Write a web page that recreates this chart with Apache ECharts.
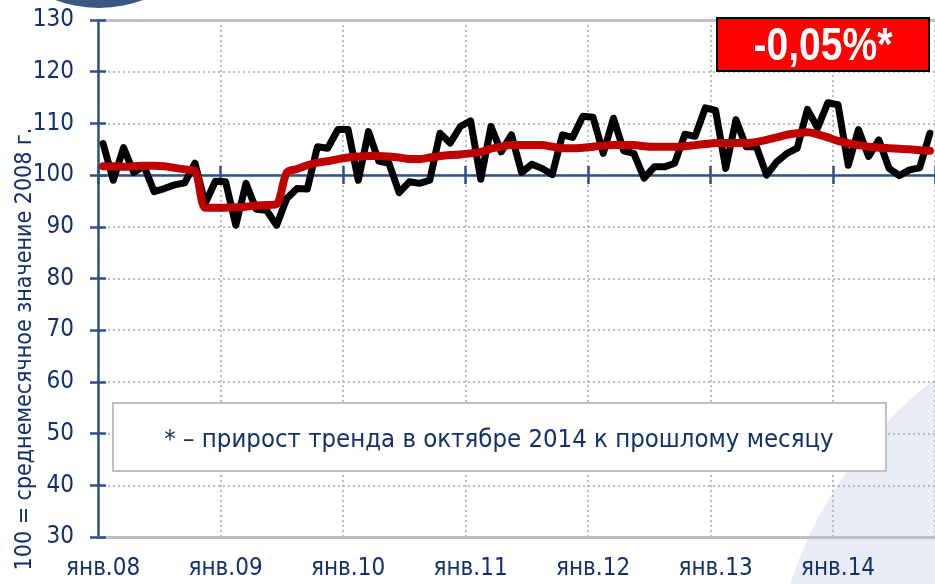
<!DOCTYPE html>
<html>
<head>
<meta charset="utf-8">
<script src="https://cdn.jsdelivr.net/npm/echarts@6/dist/echarts.min.js"></script>
<style>
html,body{margin:0;padding:0;background:#fff;}
#chart{width:935px;height:584px;}
</style>
</head>
<body>
<div id="chart"></div>
<script>
// ---- data ----
const monthNames = ['янв','фев','мар','апр','май','июн','июл','авг','сен','окт','ноя','дек'];
const years = ['08','09','10','11','12','13','14'];
const categories = [];
years.forEach(y => monthNames.forEach(m => categories.push(m + '.' + y)));
categories.length = 82; // янв.08 .. окт.14

const actual = [
  106.1, 99.0, 105.3, 100.5, 101.8, 96.8, 97.4, 98.1, 98.5, 102.3, 94.5, 98.8,
  98.7, 90.3, 98.4, 93.4, 93.2, 90.3, 95.5, 97.4, 97.3, 105.5, 105.2, 108.8,
  108.8, 99.0, 108.4, 102.7, 102.3, 96.6, 98.7, 98.4, 99.0, 108.1, 106.2, 109.4,
  110.5, 99.2, 109.4, 104.5, 107.8, 100.5, 102.1, 101.3, 100.1, 107.8, 107.3, 111.4,
  111.2, 104.2, 111.0, 104.7, 104.2, 99.4, 101.6, 101.6, 102.3, 107.9, 107.5, 113.0,
  112.5, 101.3, 110.7, 105.5, 105.5, 100.0, 102.6, 104.2, 105.2, 112.7, 109.1, 114.0,
  113.6, 101.9, 108.8, 103.6, 106.8, 101.3, 99.9, 101.0, 101.4, 108.1
];
const trend = [
  101.7, 101.7, 101.6, 101.7, 101.8, 101.8, 101.7, 101.4, 101.1, 100.8, 93.7, 93.7,
  93.7, 93.8, 93.9, 94.1, 94.2, 94.4, 100.5, 101.2, 101.9, 102.4, 102.7, 103.1,
  103.4, 103.6, 103.7, 103.7, 103.6, 103.4, 103.1, 103.1, 103.4, 103.7, 103.9, 104.0,
  104.2, 104.5, 105.1, 105.5, 105.8, 105.8, 105.8, 105.8, 105.5, 105.2, 105.2, 105.3,
  105.5, 105.7, 105.8, 105.8, 105.8, 105.6, 105.5, 105.5, 105.5, 105.6, 105.8, 106.0,
  106.2, 106.2, 106.2, 106.2, 106.4, 106.8, 107.3, 107.8, 108.1, 108.3, 107.9, 107.3,
  106.6, 106.2, 105.8, 105.5, 105.3, 105.2, 105.1, 105.0, 104.8, 104.7
];
const yTicks = { min: 30, max: 130, interval: 10 };
const baseLevel = 100;
const badgeText = '-0,05%*';
const noteText = '* – прирост тренда в октябре 2014 к прошлому месяцу';
const yTitle = '100 = среднемесячное значение 2008 г.';

// ---- style ----
const NAVY = '#13306a';
const AXIS = '#2d5286';
const FONT = "'Liberation Sans Narrow','Arial Narrow','DejaVu Sans Condensed',sans-serif";
const FONT2 = "'Liberation Sans',Arial,sans-serif";
const gridTop = 20, gridBottom = 47, gridLeft = 98;
const gridH = 584 - gridTop - gridBottom;
const baseOffset = -(baseLevel - yTicks.min) / (yTicks.max - yTicks.min) * gridH;

const chart = echarts.init(document.getElementById('chart'), null, { renderer: 'canvas' });

const catAxisBase = { type: 'category', data: categories, boundaryGap: true };

chart.setOption({
  animation: false,
  backgroundColor: '#fff',
  grid: { left: gridLeft, right: -2, top: gridTop, bottom: gridBottom, containLabel: false },
  xAxis: [
    Object.assign({}, catAxisBase, {
      position: 'bottom',
      axisLine: { show: true, lineStyle: { color: '#bfbfbf', width: 3 } },
      axisTick: { show: false },
      axisLabel: { interval: 11, color: NAVY, fontFamily: FONT, fontSize: 24, margin: 20 },
      splitLine: { show: true, interval: 11, lineStyle: { color: '#a9a9a9', width: 1.5, type: [2, 3] } }
    }),
    Object.assign({}, catAxisBase, {
      position: 'top',
      axisLine: { show: true, lineStyle: { color: '#c0c0c0', width: 3 } },
      axisTick: { show: false }, axisLabel: { show: false }, splitLine: { show: false }
    }),
    Object.assign({}, catAxisBase, {
      position: 'bottom', offset: baseOffset,
      axisLine: { show: true, lineStyle: { color: AXIS, width: 2.5 } },
      axisTick: { show: true, interval: 11, length: 9, lineStyle: { color: AXIS, width: 2.5 } },
      axisLabel: { show: false }, splitLine: { show: false }
    }),
    Object.assign({}, catAxisBase, {
      position: 'bottom', offset: baseOffset,
      axisLine: { show: false },
      axisTick: { show: true, inside: true, interval: 11, length: 9, lineStyle: { color: AXIS, width: 2.5 } },
      axisLabel: { show: false }, splitLine: { show: false }
    })
  ],
  yAxis: [
    {
      type: 'value', position: 'left', min: yTicks.min, max: yTicks.max, interval: yTicks.interval,
      axisLine: { show: true, lineStyle: { color: AXIS, width: 2.5 } },
      axisTick: { show: true, length: 8, lineStyle: { color: AXIS, width: 2.5 } },
      axisLabel: { color: NAVY, fontFamily: FONT, fontSize: 24, margin: 24 },
      splitLine: { show: true, lineStyle: { color: '#a9a9a9', width: 1.5, type: [2, 3] } }
    },
    {
      type: 'value', position: 'left', min: yTicks.min, max: yTicks.max, interval: yTicks.interval,
      axisLine: { show: false },
      axisTick: { show: true, inside: true, length: 8, lineStyle: { color: AXIS, width: 2.5 } },
      axisLabel: { show: false }, splitLine: { show: false }
    }
  ],
  series: [
    {
      type: 'line', name: 'actual', data: actual, xAxisIndex: 0, yAxisIndex: 0,
      symbol: 'none', z: 3,
      lineStyle: { color: '#000', width: 7, cap: 'round', join: 'round' }
    },
    {
      type: 'line', name: 'trend', data: trend, xAxisIndex: 0, yAxisIndex: 0,
      symbol: 'none', smooth: 0.3, z: 4,
      lineStyle: { color: '#c00000', width: 8, cap: 'round', join: 'round' }
    }
  ],
  graphic: [
    { type: 'circle', z: -10, silent: true, shape: { cx: 99, cy: -117, r: 125 }, style: { fill: '#3a5884' } },
    { type: 'circle', z: -10, silent: true, shape: { cx: 1200, cy: 720, r: 432 }, style: { fill: '#e8ecf4' } },
    {
      type: 'rect', z: 50, shape: { x: 113, y: 403, width: 773, height: 68 },
      style: { fill: '#fff', stroke: '#bfbfbf', lineWidth: 2 }
    },
    {
      type: 'text', z: 51, x: 499, y: 440,
      style: { text: noteText, fill: NAVY, font: '25.5px ' + FONT, align: 'center', verticalAlign: 'middle' }
    },
    {
      type: 'rect', z: 50, shape: { x: 717, y: 18, width: 212, height: 53 },
      style: { fill: '#ff0000', stroke: '#000', lineWidth: 2 }
    },
    {
      type: 'text', z: 51, x: 823, y: 47, scaleX: 0.85,
      style: { text: badgeText, fill: '#fff', font: 'bold 46px ' + FONT2, align: 'center', verticalAlign: 'middle' }
    },
    {
      type: 'text', z: 51, x: 25, y: 349, rotation: Math.PI / 2,
      style: { text: yTitle, fill: NAVY, font: '23px ' + FONT, align: 'center', verticalAlign: 'middle' }
    }
  ]
});
</script>
</body>
</html>
